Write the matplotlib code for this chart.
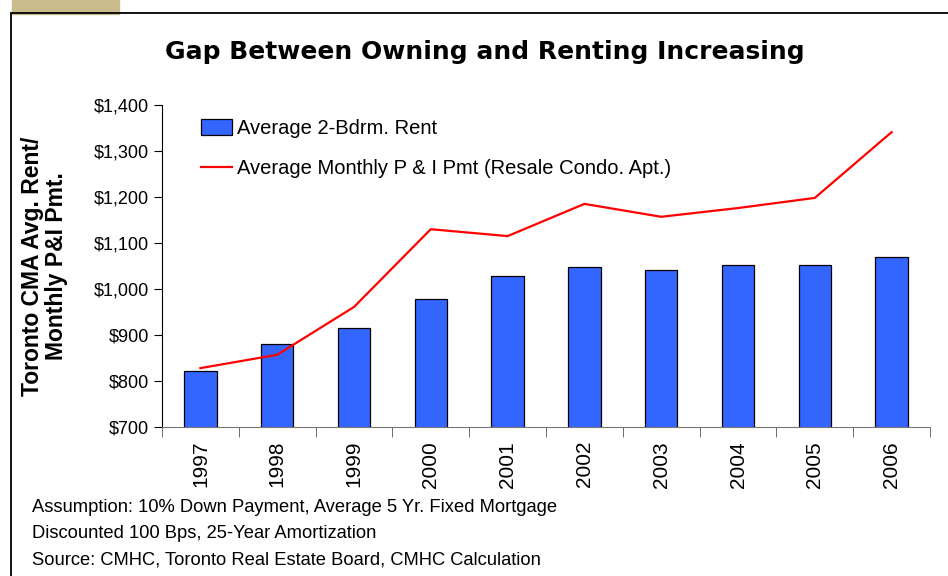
import numpy as np
import matplotlib.pyplot as plt
from matplotlib.patches import Rectangle

plt.rcParams['font.family'] = ['Liberation Sans', 'DejaVu Sans']

years = ['1997', '1998', '1999', '2000', '2001', '2002', '2003', '2004', '2005', '2006']
rent = [822, 880, 915, 978, 1028, 1048, 1041, 1052, 1052, 1070]
payment = [828, 857, 961, 1130, 1115, 1185, 1157, 1176, 1198, 1341]
yticks = [700, 800, 900, 1000, 1100, 1200, 1300, 1400]

fig = plt.figure(figsize=(9.48, 5.76), dpi=100)

# frame and tab in the corner
fig.patches.append(Rectangle((12/948, 1 - 14/576), 107/948, 14/576,
                             transform=fig.transFigure, color='#c9bb8c', zorder=0))
fig.patches.append(Rectangle((11/948, -0.1), 1.2, 1 - 13/576 + 0.1,
                             transform=fig.transFigure, fill=False,
                             edgecolor='black', linewidth=1.3, zorder=1))

ax = fig.add_axes([162/948, 1 - 427/576, 768/948, 322/576])
x = np.arange(len(years))
bars = ax.bar(x, rent, width=0.42, color='#3366ff', edgecolor='black', linewidth=0.9,
              zorder=2)
line, = ax.plot(x, payment, color='red', linewidth=1.6, zorder=3)

ax.set_xlim(-0.5, 9.5)
ax.set_ylim(700, 1400)
ax.set_yticks(yticks)
ax.set_yticklabels(['${:,}'.format(v) for v in yticks], fontsize=13)
ax.set_xticks(x)
ax.set_xticklabels(years, rotation=90, fontsize=15)
ax.tick_params(axis='x', length=0, pad=10)
ax.set_xticks(np.arange(-0.5, 10, 1), minor=True)
ax.tick_params(axis='x', which='minor', length=7, direction='out', color='#555555')
ax.tick_params(axis='y', length=6, direction='out')

ax.spines['top'].set_visible(False)
ax.spines['right'].set_visible(False)
ax.spines['bottom'].set_color('#777777')

ax.set_ylabel('Toronto CMA Avg. Rent/\nMonthly P&I Pmt.', fontsize=16.5,
              fontweight='bold', linespacing=1.05)
ax.yaxis.set_label_coords(-94/768, 0.5)

ax.legend([bars, line], ['Average 2-Bdrm. Rent',
                         'Average Monthly P & I Pmt (Resale Condo. Apt.)'],
          loc='upper left', bbox_to_anchor=(0.035, 0.995), frameon=False,
          fontsize=14.5, handlelength=1.55, handleheight=0.9, labelspacing=1.05,
          handletextpad=0.25, borderaxespad=0.2)

fig.text(485/948, 1 - 52/576, 'Gap Between Owning and Renting Increasing',
         ha='center', va='center', fontsize=18, fontweight='bold',
         family=['DejaVu Sans'])

notes = ['Assumption: 10% Down Payment, Average 5 Yr. Fixed Mortgage',
         'Discounted 100 Bps, 25-Year Amortization',
         'Source: CMHC, Toronto Real Estate Board, CMHC Calculation']
for i, text in enumerate(notes):
    fig.text(32/948, 1 - (508 + 26*i)/576, text, ha='left', va='center', fontsize=13.2)

fig.savefig('out.png', dpi=100)
